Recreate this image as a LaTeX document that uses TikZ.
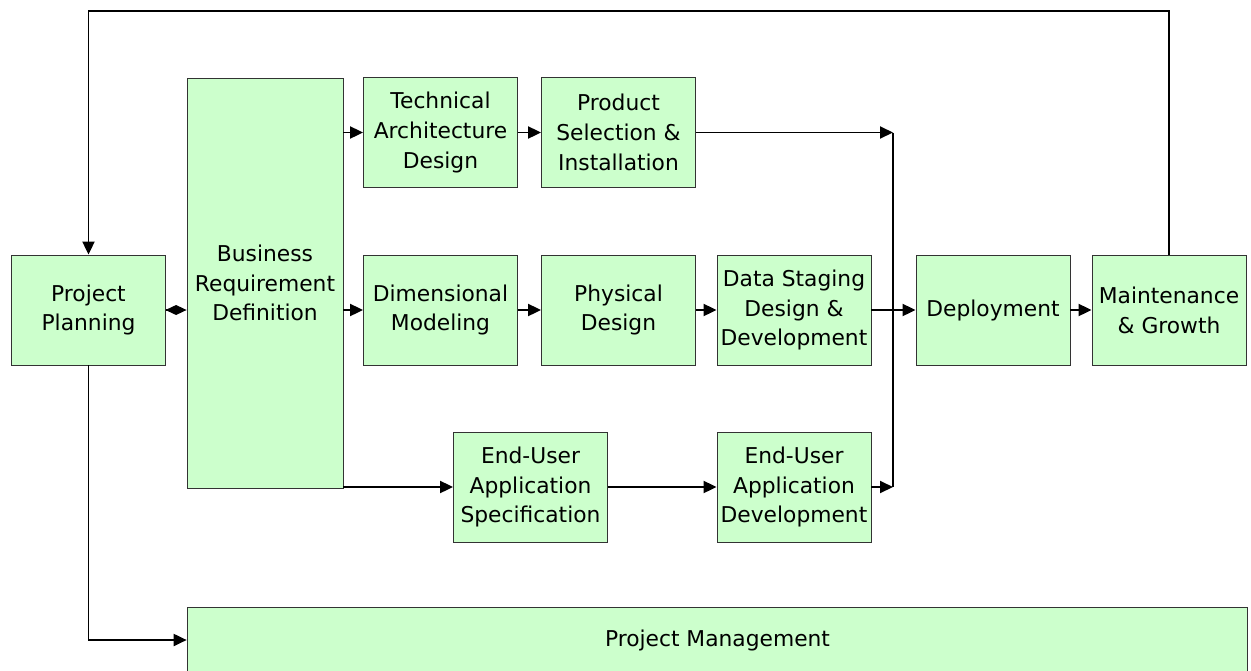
\documentclass[tikz,border=0pt]{standalone}
\usepackage{fontspec}
\setmainfont{DejaVu Sans}
\usetikzlibrary{arrows.meta}
\definecolor{boxgreen}{HTML}{CCFFCC}
\begin{document}
\begin{tikzpicture}[x=0.02cm, y=-0.02cm, >={Triangle[length=0.26cm, width=0.24cm]},
    phase/.style={draw=black!80, line width=0.5pt, fill=boxgreen, align=center, inner sep=0pt,
      minimum width=3.08cm, minimum height=2.2cm, font=\fontsize{12.4}{17}\selectfont},
    flow/.style={line width=1.1pt}]
  \useasboundingbox (0,0) rectangle (1251,670);

  \node[phase] (PP) at (88.5,310) {Project\\Planning};
  \node[phase, minimum width=3.12cm, minimum height=8.2cm] (BRD) at (265,283) {Business\\Requirement\\Definition};
  \node[phase] (TAD) at (440.5,132.5) {Technical\\Architecture\\Design};
  \node[phase] (PSI) at (618.5,132.5) {Product\\Selection \&\\Installation};
  \node[phase] (DM) at (440.5,310) {Dimensional\\Modeling};
  \node[phase] (PD) at (618.5,310) {Physical\\Design};
  \node[phase] (DS) at (794,310) {Data Staging\\Design \&\\Development};
  \node[phase] (DEP) at (993,310) {Deployment};
  \node[phase] (MG) at (1169,310) {Maintenance\\\& Growth};
  \node[phase] (EUAS) at (530.5,487) {End-User\\Application\\Specification};
  \node[phase] (EUAD) at (794,487) {End-User\\Application\\Development};
  \node[phase, minimum width=21.22cm, minimum height=1.32cm] (PM) at (717.5,640) {Project Management};

  \coordinate (J1) at (893,132.5);
  \coordinate (J2) at (893,487);

  % feedback loop over the top and the management branch
  \draw[flow, ->] (MG.north) -- (MG.north |- 0,11) -| (PP.north);
  \draw[flow, ->] (PP.south) |- (PM.west);
  \draw[flow, -{Diamond[length=0.42cm, width=0.2cm]}] (PP.east) -- (PP.east -| BRD.west);

  % technical track
  \draw[flow, ->] (BRD.east |- TAD.west) -- (TAD.west);
  \draw[flow, ->] (TAD) -- (PSI);
  \draw[flow, ->] (PSI.east) -- (J1);

  % data track
  \draw[flow, ->] (BRD.east |- DM.west) -- (DM.west);
  \draw[flow, ->] (DM) -- (PD);
  \draw[flow, ->] (PD) -- (DS);
  \draw[flow, ->] (DS) -- (DEP);
  \draw[flow, ->] (DEP) -- (MG);

  % application track
  \draw[flow, ->] (BRD.east |- EUAS.west) -- (EUAS.west);
  \draw[flow, ->] (EUAS) -- (EUAD);
  \draw[flow, ->] (EUAD.east) -- (J2);
  \draw[flow] (J1) -- (J2);
\end{tikzpicture}
\end{document}
